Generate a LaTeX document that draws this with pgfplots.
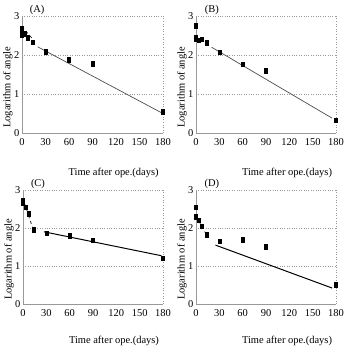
\documentclass[border=0pt]{standalone}
\usepackage{fontspec}
\setmainfont{Liberation Serif}
\usepackage{pgfplots}
\pgfplotsset{compat=1.18}
\newcommand\ff{\fontsize{10.5}{12}\selectfont}
\pgfplotsset{
  panel/.style={
    scale only axis, width=141bp, height=117bp,
    xmin=0, xmax=180, ymin=0, ymax=3, clip=false,
    xtick={0,30,60,90,120,150,180}, ytick={0,1,2,3},
    major tick length=0pt,
    axis x line*=bottom, axis y line*=left,
    axis line style={gray!80, line width=0.6pt, -},
    ymajorgrids, grid style={gray!80, dotted, line width=0.6pt},
    /pgf/number format/assume math mode=true,
    tick label style={font=\ff},
    xticklabel style={yshift=-2pt},
    yticklabel style={xshift=1pt},
    label style={font=\ff},
    xlabel={Time after ope.(days)},
    ylabel={Logarithm of angle},
    xlabel style={at={(axis description cs:0.65,-0.34)}, anchor=center},
    ylabel style={at={(axis description cs:-0.1,0.39)}, anchor=center},
    every axis title shift=0pt,
    title style={font=\ff, anchor=south, inner sep=1pt},
  },
  pts/.style={only marks, mark=square*, mark size=2.3pt, mark options={xscale=0.7, black, fill=black}},
  fitA/.style={no marks, draw=black!70, line width=0.7pt},
  fitC/.style={no marks, draw=black, line width=1.0pt},
  early/.style={no marks, draw=black, line width=0.6pt, dashed},
}
\begin{document}
\begin{tikzpicture}
\useasboundingbox (0,0) rectangle (350bp,352bp);
% (A)
\begin{axis}[panel, at={(22bp,219bp)}, anchor=south west,
  title={(A)}, title style={at={(axis description cs:0.107,1)}}]
\addplot[pts] coordinates {(0,2.68) (0,2.6) (0,2.52) (3,2.55) (7,2.45) (14,2.33) (30,2.09) (60,1.88) (90,1.78) (180,0.55)};
\addplot[early] coordinates {(0,2.73) (14,2.4)};
\addplot[fitA] coordinates {(20,2.21) (178,0.52)};
\draw[gray!80, dotted, line width=0.6pt] (axis cs:180,0) -- (axis cs:180,3);
\end{axis}
% (B)
\begin{axis}[panel, at={(196bp,219bp)}, anchor=south west, width=140bp,
  title={(B)}, title style={at={(axis description cs:0.114,1)}}]
\addplot[pts] coordinates {(0,2.75) (0,2.45) (0,2.4) (3,2.38) (7,2.4) (14,2.32) (30,2.07) (60,1.76) (90,1.59) (180,0.33)};
\addplot[early] coordinates {(0,2.45) (14,2.3)};
\addplot[fitA] coordinates {(20,2.2) (175,0.38)};
\draw[gray!80, dotted, line width=0.6pt] (axis cs:180,0) -- (axis cs:180,3);
\end{axis}
% (C)
\begin{axis}[panel, at={(23bp,48bp)}, anchor=south west, width=140bp, height=114bp,
  xlabel style={at={(axis description cs:0.65,-0.32)}},
  title={(C)}, title style={at={(axis description cs:0.107,1)}}]
\addplot[pts] coordinates {(0,2.72) (0,2.65) (3,2.55) (7,2.38) (14,1.95) (30,1.86) (60,1.79) (90,1.68) (180,1.2)};
\addplot[early] coordinates {(0,2.78) (14,1.9)};
\addplot[fitC] coordinates {(27,1.9) (178,1.27)};
\draw[gray!80, dotted, line width=0.6pt] (axis cs:180,0) -- (axis cs:180,3);
\end{axis}
% (D)
\begin{axis}[panel, at={(196bp,48bp)}, anchor=south west, width=140bp, height=114bp,
  xlabel style={at={(axis description cs:0.65,-0.32)}},
  title={(D)}, title style={at={(axis description cs:0.114,1)}}]
\addplot[pts] coordinates {(0,2.55) (0,2.3) (3,2.2) (7,2.05) (14,1.82) (30,1.65) (60,1.69) (90,1.51) (180,0.51)};
\addplot[early] coordinates {(0,2.32) (14,1.8)};
\addplot[fitC] coordinates {(25,1.55) (175,0.42)};
\draw[gray!80, dotted, line width=0.6pt] (axis cs:180,0) -- (axis cs:180,3);
\end{axis}
\end{tikzpicture}
\end{document}
